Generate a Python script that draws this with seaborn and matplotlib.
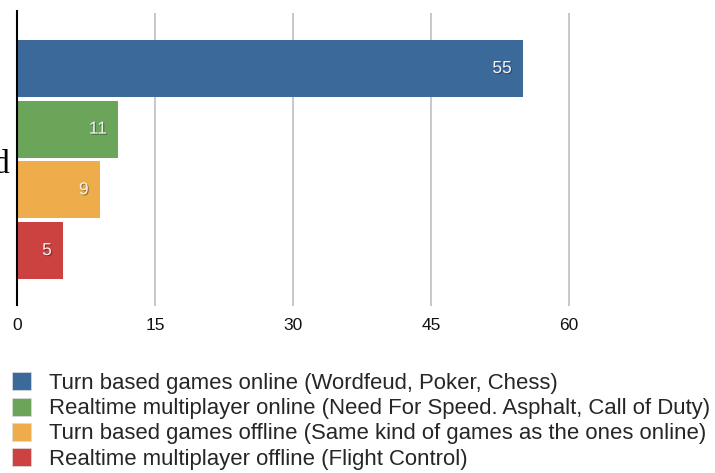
import matplotlib
matplotlib.use("Agg")
import matplotlib.pyplot as plt
import matplotlib.patheffects as pe
import seaborn as sns
import pandas as pd

categories = [
    "Turn based games online (Wordfeud, Poker, Chess)",
    "Realtime multiplayer online (Need For Speed. Asphalt, Call of Duty)",
    "Turn based games offline (Same kind of games as the ones online)",
    "Realtime multiplayer offline (Flight Control)",
]
values = [55, 11, 9, 5]
colors = ["#3b6a9a", "#6ba55a", "#eead4a", "#cb4240"]
x_ticks = [0, 15, 30, 45, 60]

sns.set_theme(style="white")
plt.rcParams["font.family"] = ["Liberation Sans", "DejaVu Sans"]

W, H = 715, 473
fig = plt.figure(figsize=(W / 100, H / 100), dpi=100)
ax = fig.add_axes([17 / W, 1 - 300 / H, (W - 17) / W, 287 / H])

df = pd.DataFrame({"category": categories, "value": values})
sns.barplot(data=df, x="value", y="category", hue="category",
            palette=colors, orient="h", width=0.94, dodge=False,
            legend=False, ax=ax, saturation=1, edgecolor="none")

ax.set_xlim(0, (W - 17) / 9.2)
ax.set_ylim(3.815, -0.914)
ax.set_xticks(x_ticks)
ax.set_xticklabels([str(t) for t in x_ticks], fontsize=12.5, color="#111111")
ax.set_yticks([])
ax.set_xlabel("")
ax.set_ylabel("")
ax.grid(axis="x", color="#c4c4c4", linewidth=1.3)
ax.set_axisbelow(True)
ax.tick_params(axis="x", length=4, width=1.3, color="#c4c4c4", pad=9,
               direction="out", bottom=True)
ax.get_xticklines()[0].set_color("black")
for s in ["top", "right", "bottom"]:
    ax.spines[s].set_visible(False)
ax.spines["left"].set_color("black")
ax.spines["left"].set_linewidth(1.5)
ax.spines["left"].set_bounds(3.9, -0.95)
ax.spines["left"].set_clip_on(False)

# value labels inside the end of each bar
for i, v in enumerate(values):
    ax.annotate(str(v), xy=(v, i), xytext=(-8, 0), textcoords="offset points",
                ha="right", va="center", fontsize=12.5, color="#f2f2f2",
                path_effects=[pe.withSimplePatchShadow(offset=(0.8, -0.8),
                                                       shadow_rgbFace="black",
                                                       alpha=0.35)])

# legend below the plot
handles = [plt.Rectangle((0, 0), 1, 1, facecolor=c, edgecolor="#dddddd", linewidth=0.5)
           for c in colors]
fig.legend(handles, categories, loc="upper left",
           bbox_to_anchor=(8 / W, 1 - 368 / H), frameon=False,
           fontsize=15.9, handlelength=0.86, handleheight=0.88,
           handletextpad=0.8, labelspacing=0.16, borderaxespad=0,
           borderpad=0.2)

fig.text(10 / W, 1 - 173 / H, "d", family="Liberation Serif", fontsize=24,
         ha="right", va="baseline", color="black")

fig.savefig("out.png", dpi=100)
